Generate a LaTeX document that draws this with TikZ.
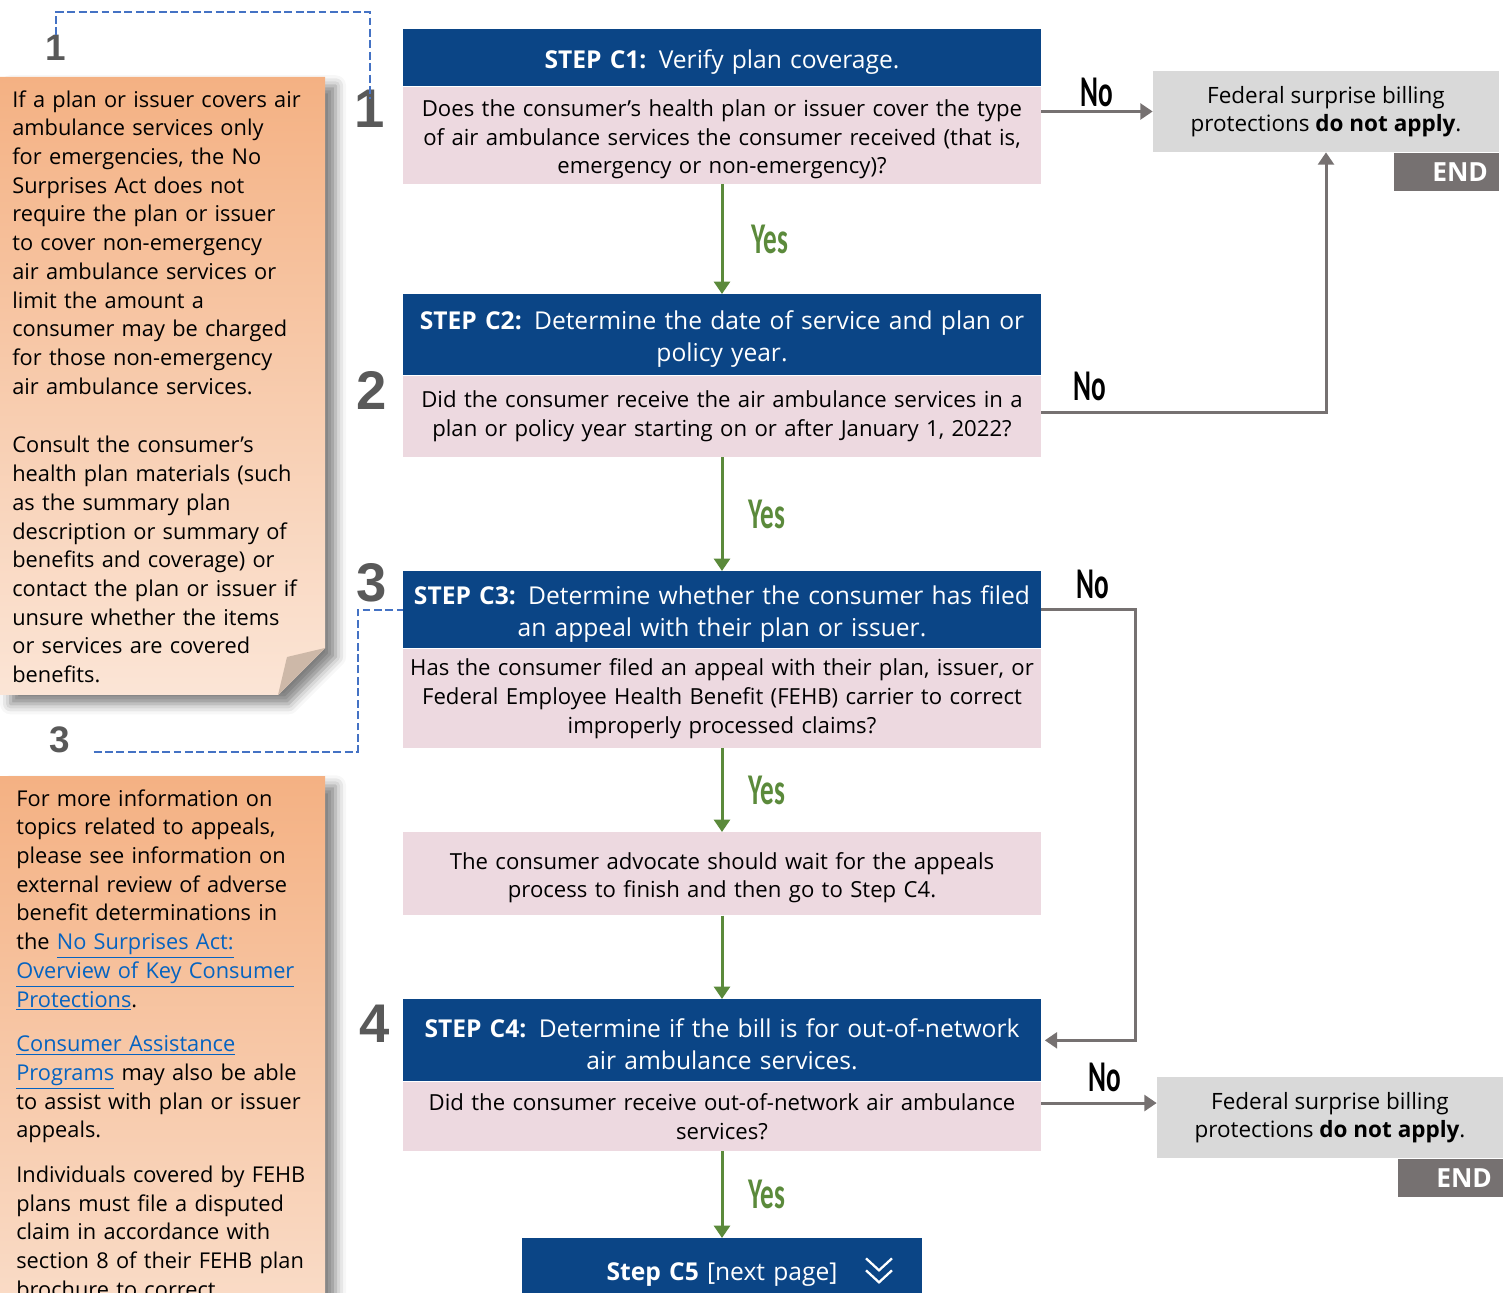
\documentclass[tikz,border=0pt]{standalone}
\usepackage{fontspec}
\setmainfont{Open Sans}
\newfontfamily\yesnofont{Carlito}
\newfontfamily\numfont{Liberation Sans}
\usepackage{xcolor}
\usetikzlibrary{arrows.meta,positioning,calc,shadows.blur}

\definecolor{headblue}{HTML}{0B4586}
\definecolor{bodypink}{HTML}{EDD9E0}
\definecolor{endgray}{HTML}{D9D9D9}
\definecolor{tagdark}{HTML}{767171}
\definecolor{linegray}{HTML}{767171}
\definecolor{arrowgreen}{HTML}{5B8A3B}
\definecolor{dashblue}{HTML}{4472C4}
\definecolor{numgray}{HTML}{595959}
\definecolor{notetop}{HTML}{F4B183}
\definecolor{notebot}{HTML}{FBE5D6}
\definecolor{foldtan}{HTML}{CDB8A8}
\definecolor{linkblue}{HTML}{0563C1}

\newcommand{\cond}[1]{\scalebox{0.62}[1]{#1}}
\newcommand{\weblink}[1]{\textcolor{linkblue}{\underline{#1}}}

\tikzset{
  stephead/.style={fill=headblue, text=white, minimum width=12.76cm, text width=12.6cm,
    align=center, inner sep=0pt, anchor=north, font=\fontsize{14}{18.1}\selectfont,
    execute at begin node={\rule{0pt}{15.5pt}}},
  stepbody/.style={fill=bodypink, text=black, minimum width=12.76cm, text width=12.7cm,
    align=center, inner sep=0pt, anchor=north, font=\fontsize{12.6}{16.4}\selectfont},
  endbox/.style={fill=endgray, minimum width=6.92cm, minimum height=1.62cm, align=center,
    inner sep=0pt, font=\fontsize{12.8}{15.9}\selectfont},
  endtag/.style={fill=tagdark, text=white, minimum width=2.1cm, minimum height=0.76cm,
    inner sep=0pt, text width=1.66cm, align=right, font=\fontsize{15}{18}\selectfont\bfseries},
  yesarrow/.style={draw=arrowgreen, line width=1.7pt, -{Triangle[width=9pt,length=7pt]}},
  noarrow/.style={draw=linegray, line width=1.7pt, -{Triangle[width=9pt,length=7pt]}},
  yeslabel/.style={text=arrowgreen, inner sep=0pt, font=\yesnofont\bfseries\fontsize{25}{28}\selectfont},
  nolabel/.style={text=black, inner sep=0pt, font=\yesnofont\bfseries\fontsize{25}{28}\selectfont},
  bignum/.style={text=numgray, inner sep=0pt, font=\numfont\bfseries\fontsize{31}{34}\selectfont},
  smallnum/.style={text=numgray, inner sep=0pt, font=\numfont\bfseries\fontsize{21}{24}\selectfont},
  linkline/.style={draw=dashblue, line width=1.1pt, dash pattern=on 4.5pt off 2pt},
  notetext/.style={anchor=north west, inner sep=0pt, align=left, text width=5.9cm,
    font=\fontsize{12.4}{16.35}\selectfont},
}

\begin{document}
\begin{tikzpicture}[x=0.02cm, y=-0.02cm]

\useasboundingbox (0,0) rectangle (1512,1293);
\clip (0,0) rectangle (1512,1293);

% Side notes
\path[top color=notetop, bottom color=notebot,
  blur shadow={shadow xshift=6pt, shadow yshift=-5pt, shadow blur radius=6pt, shadow opacity=50}]
  (0,77) -- (325,77) -- (325,648) -- (278,695) -- (0,695) -- cycle;
\fill[foldtan] (325,648) -- (287,657) -- (278,695) -- cycle;
\node[notetext] (n1) at (12,90) {If a plan or issuer covers air\\ambulance services only\\for emergencies, the No\\Surprises Act does not\\require the plan or issuer\\to cover non-emergency\\air ambulance services or\\limit the amount a\\consumer may be charged\\for those non-emergency\\air ambulance services.\\[17pt]Consult the consumer’s\\health plan materials (such\\as the summary plan\\description or summary of\\benefits and coverage) or\\contact the plan or issuer if\\unsure whether the items\\or services are covered\\benefits.};

\path[top color=notetop, bottom color=notebot,
  blur shadow={shadow xshift=6pt, shadow yshift=-5pt, shadow blur radius=6pt, shadow opacity=50}]
  (0,777) rectangle (325,1420);
\node[notetext] (n2) at (16,789) {For more information on\\topics related to appeals,\\please see information on\\external review of adverse\\benefit determinations in\\the \weblink{No Surprises Act:}\\\weblink{Overview of Key Consumer}\\\weblink{Protections}.\\[9pt]\weblink{Consumer Assistance}\\\weblink{Programs} may also be able\\to assist with plan or issuer\\appeals.\\[9pt]Individuals covered by FEHB\\plans must file a disputed\\claim in accordance with\\section 8 of their FEHB plan\\brochure to correct};

% Step numbers
\node[smallnum] (s1) at (56,48) {1};
\node[smallnum] (s3) at (60,740) {3};
\node[bignum] (num1) at (370,109) {1};
\node[bignum] (num2) at (372,390) {2};
\node[bignum] (num3) at (372,583) {3};
\node[bignum] (num4) at (375,1024) {4};

% Steps
\node[stephead, minimum height=1.14cm] (c1h) at (722,29) {\textbf{STEP C1:} Verify plan coverage.};
\node[stepbody, minimum height=1.94cm] (c1b) at (c1h.south) {\rule{0pt}{14pt}Does the consumer’s health plan or issuer cover the type\\of air ambulance services the consumer received (that is,\\emergency or non-emergency)?};

\node[stephead, minimum height=1.62cm] (c2h) at (722,294) {\textbf{STEP C2:} Determine the date of service and plan or\\policy year.};
\node[stepbody, minimum height=1.62cm] (c2b) at (c2h.south) {Did the consumer receive the air ambulance services in a\\plan or policy year starting on or after January 1, 2022?};

\node[stephead, minimum height=1.54cm] (c3h) at (722,571) {\textbf{STEP C3:} Determine whether the consumer has filed\\an appeal with their plan or issuer.};
\node[stepbody, minimum height=1.98cm] (c3b) at (c3h.south) {Has the consumer filed an appeal with their plan, issuer, or\\Federal Employee Health Benefit (FEHB) carrier to correct\\improperly processed claims?};

\node[stepbody, minimum height=1.66cm] (wait) at (722,832) {\rule{0pt}{14pt}The consumer advocate should wait for the appeals\\process to finish and then go to Step C4.};

\node[stephead, minimum height=1.64cm] (c4h) at (722,999) {\textbf{STEP C4:} Determine if the bill is for out-of-network\\air ambulance services.};
\node[stepbody, minimum height=1.38cm] (c4b) at (c4h.south) {Did the consumer receive out-of-network air ambulance\\services?};

\node[stephead, minimum width=8cm, text width=7.8cm, minimum height=1.24cm] (c5) at (722,1238) {\textbf{Step C5} [next page]};
\draw[white, line width=1.3pt] ($(c5.center)+(144,-11)$) -- ++(13,12) -- ++(13,-12);
\draw[white, line width=1.3pt] ($(c5.center)+(144,1)$) -- ++(13,12) -- ++(13,-12);

% End boxes
\node[endbox] (end1) at (1326,111.5) {Federal surprise billing\\protections \textbf{do not apply}.};
\node[endtag, anchor=north east] (tag1) at (end1.south east) {END};
\node[endbox] (end2) at (1330,1117.5) {Federal surprise billing\\protections \textbf{do not apply}.};
\node[endtag, anchor=north east] (tag2) at (end2.south east) {END};

% Yes connectors
\draw[yesarrow] (c1b.south) -- (c2h.north) node[yeslabel, midway, right=0.56cm] {\cond{Yes}};
\draw[yesarrow] (c2b.south) -- (c3h.north) node[yeslabel, midway, right=0.5cm] {\cond{Yes}};
\draw[yesarrow] (c3b.south) -- (wait.north) node[yeslabel, midway, right=0.5cm] {\cond{Yes}};
\draw[yesarrow] (wait.south) -- (c4h.north);
\draw[yesarrow] (c4b.south) -- (c5.north) node[yeslabel, midway, right=0.5cm] {\cond{Yes}};

% No connectors
\draw[noarrow] (c1b.east |- end1.west) -- (end1.west) node[nolabel, midway, above=0.06cm] {\cond{No}};
\draw[noarrow] ([yshift=0.08cm]c2b.east) -| (end1.south) node[nolabel, pos=0.086, above=0.2cm] {\cond{No}};
\draw[noarrow] (c3h.east) -- ++(94,0) node[nolabel, pos=0.55, above=0.2cm] {\cond{No}} |- ([xshift=2pt]c4h.east);
\draw[noarrow] ([yshift=0.27cm]c4b.east) -- ([yshift=0.27cm]c4b.east -| end2.west) node[nolabel, pos=0.55, above=0.2cm] {\cond{No}};

% Dashed links to the notes
\draw[linkline] (s1.north) -- ++(0,-23) -| ([yshift=-0.18cm]num1.north);
\draw[linkline] (s3.east) ++(23,12) -- ++(264,0) |- (c3h.west);

\end{tikzpicture}
\end{document}
